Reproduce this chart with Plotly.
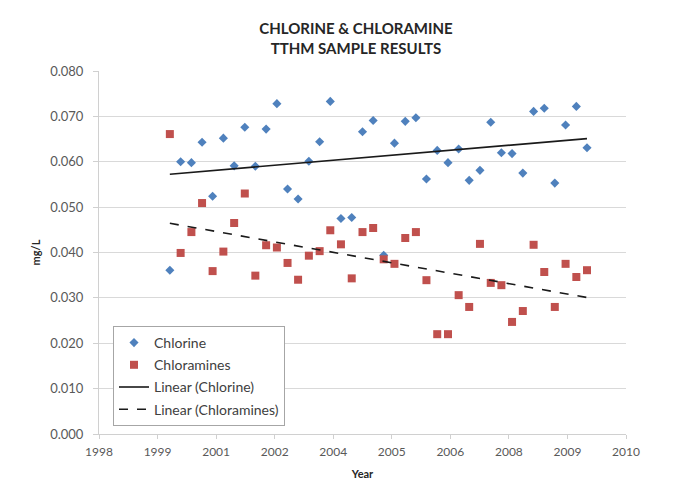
import numpy as np
import pandas as pd
import plotly.graph_objects as go

# ---- data ----
sample_dates = [
    "2000-03-20", "2000-06-20", "2000-09-20", "2000-12-20",
    "2001-03-20", "2001-06-20", "2001-09-20", "2001-12-20",
    "2002-03-20", "2002-06-20", "2002-09-20", "2002-12-20",
    "2003-03-20", "2003-06-20", "2003-09-20", "2003-12-20",
    "2004-03-20", "2004-06-20", "2004-09-20", "2004-12-20",
    "2005-03-20", "2005-06-20", "2005-09-20", "2005-12-20",
    "2006-03-20", "2006-06-20", "2006-09-20", "2006-12-20",
    "2007-03-20", "2007-06-20", "2007-09-20", "2007-12-20",
    "2008-03-20", "2008-06-20", "2008-09-20", "2008-12-20",
    "2009-03-20", "2009-06-20", "2009-09-20", "2009-12-20",
]
chlorine = [0.0361, 0.0600, 0.0598, 0.0643, 0.0524, 0.0652, 0.0591, 0.0676,
            0.0590, 0.0672, 0.0728, 0.0540, 0.0518, 0.0601, 0.0644, 0.0733,
            0.0475, 0.0477, 0.0666, 0.0691, 0.0394, 0.0641, 0.0689, 0.0697,
            0.0562, 0.0625, 0.0598, 0.0628, 0.0559, 0.0581, 0.0687, 0.0620,
            0.0618, 0.0575, 0.0711, 0.0718, 0.0553, 0.0681, 0.0722, 0.0631]
chloramines = [0.0661, 0.0399, 0.0445, 0.0509, 0.0359, 0.0402, 0.0465, 0.0530,
               0.0349, 0.0416, 0.0411, 0.0377, 0.0340, 0.0393, 0.0403, 0.0449,
               0.0418, 0.0343, 0.0445, 0.0454, 0.0385, 0.0375, 0.0432, 0.0445,
               0.0339, 0.0220, 0.0220, 0.0306, 0.0280, 0.0419, 0.0333, 0.0328,
               0.0247, 0.0271, 0.0417, 0.0357, 0.0280, 0.0375, 0.0346, 0.0361]
x_tick_dates = ["1998-07-24", "1999-12-06", "2001-04-19", "2002-09-01", "2004-01-14",
                "2005-05-28", "2006-10-10", "2008-02-22", "2009-07-06", "2010-11-18"]
x_tick_labels = ["1998", "1999", "2001", "2002", "2004",
                 "2005", "2006", "2008", "2009", "2010"]
y_tick_vals = [0.0, 0.01, 0.02, 0.03, 0.04, 0.05, 0.06, 0.07, 0.08]

# ---- linear trend lines (least squares, like Excel) ----
dates = pd.to_datetime(sample_dates)
days = (dates - dates[0]).days.values.astype(float)
trend_x = [dates[0], dates[-1]]
def trend(vals):
    m, c = np.polyfit(days, np.array(vals), 1)
    return [c + m * days[0], c + m * days[-1]]

BLUE = "#4F81BD"
RED = "#C0504D"
FONT = "Lato, 'Open Sans', sans-serif"

fig = go.Figure()
fig.add_trace(go.Scatter(x=dates, y=chlorine, mode="markers", name="Chlorine",
                         legendgroup="a",
                         marker=dict(symbol="diamond", size=7, color=BLUE)))
fig.add_trace(go.Scatter(x=dates, y=chloramines, mode="markers", name="Chloramines",
                         legendgroup="b",
                         marker=dict(symbol="square", size=8, color=RED)))
fig.add_trace(go.Scatter(x=trend_x, y=trend(chlorine), mode="lines",
                         name="Linear (Chlorine)", legendgroup="c",
                         line=dict(color="#1a1a1a", width=1.6)))
fig.add_trace(go.Scatter(x=trend_x, y=trend(chloramines), mode="lines",
                         name="Linear (Chloramines)", legendgroup="d",
                         line=dict(color="#1a1a1a", width=1.6, dash="dash")))

# page body has an 8px margin, so the figure is drawn 8px in from the window edge
OFF = 8
W, H = 686 - OFF, 482 - OFF
L, R, T, B = 99 - OFF, 60, 71 - OFF, 48
PW, PH = W - L - R, H - T - B

def px_x(p):
    return (p - OFF - L) / PW

def px_y(p):
    return (H - B - (p - OFF)) / PH

fig.update_layout(
    width=W, height=H,
    margin=dict(l=L, r=R, t=T, b=B, autoexpand=False),
    paper_bgcolor="white", plot_bgcolor="white",
    font=dict(family=FONT, color="#595959"),
    title=dict(text="<b>CHLORINE &amp; CHLORAMINE<br>TTHM SAMPLE RESULTS</b>",
               x=(356 - OFF) / W, xref="container", xanchor="center",
               y=1 - 26 / H, yref="container", yanchor="top",
               automargin=False,
               font=dict(family=FONT, size=15, color="#262626")),
    showlegend=True,
    legend=dict(x=px_x(113), y=px_y(326), xanchor="left", yanchor="top",
                bgcolor="white", bordercolor="#a6a6a6", borderwidth=1,
                font=dict(family=FONT, size=14, color="#404040"),
                tracegroupgap=1, itemwidth=30),
    shapes=[dict(type="rect", xref="paper", yref="paper",
                 x0=px_x(3), x1=px_x(683), y0=px_y(492), y1=px_y(2),
                 line=dict(color="#d4d4d4", width=2), layer="below")],
)
fig.update_xaxes(
    type="date", range=[x_tick_dates[0], x_tick_dates[-1]],
    tickvals=x_tick_dates, ticktext=x_tick_labels, automargin=False,
    showgrid=False, showline=True, linecolor="#d0d0d0", linewidth=1,
    ticks="outside", ticklen=4, tickcolor="#d0d0d0", ticklabelstandoff=3,
    tickfont=dict(family=FONT, size=12, color="#595959"),
    title=dict(text="<b>Year</b>", standoff=11,
               font=dict(family=FONT, size=11, color="#262626")),
    zeroline=False,
)
fig.update_yaxes(
    range=[0, 0.08], tickvals=y_tick_vals, tickformat=".3f", automargin=False,
    showgrid=True, gridcolor="#d9d9d9", gridwidth=1,
    showline=True, linecolor="#d0d0d0", linewidth=1,
    ticks="outside", ticklen=5, tickcolor="#d0d0d0", ticklabelstandoff=7,
    tickfont=dict(family=FONT, size=13, color="#595959"),
    title=dict(text="<b>mg/L</b>", standoff=7,
               font=dict(family=FONT, size=11, color="#262626")),
    zeroline=False,
)

fig.write_html("out.html")
